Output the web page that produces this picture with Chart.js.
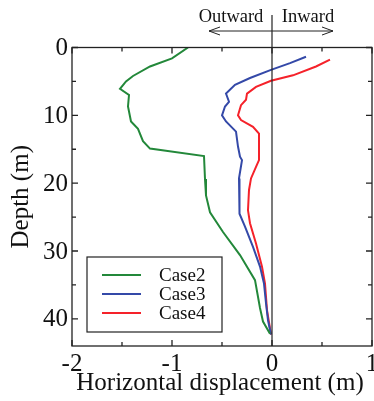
<!DOCTYPE html>
<html>
<head>
<meta charset="utf-8">
<script src="https://cdn.jsdelivr.net/npm/chart.js@4/dist/chart.umd.min.js"></script>
<style>
  html, body { margin: 0; padding: 0; background: #fff; }
  #wrap { width: 374px; height: 401px; }
</style>
</head>
<body>
<div id="wrap"><canvas id="chart" width="374" height="401"></canvas></div>
<script>
// -----------------------------
// DATA
// -----------------------------
const seriesNames = ["Case2", "Case3", "Case4"];
const seriesColors = ["#23883a", "#3449a8", "#f5222a"];

const case2Depth = [0, 1.6, 2.8, 4.2, 5.0, 6.1, 7.0, 8.7, 10.9, 12.0, 13.8, 14.9, 16.0, 19.4, 21.8, 24.3, 27.2, 30.6, 34.3, 38.4, 40.4, 42.2];
const case2Disp  = [-0.84, -1.0, -1.22, -1.39, -1.46, -1.52, -1.43, -1.44, -1.41, -1.34, -1.29, -1.22, -0.68, -0.67, -0.66, -0.62, -0.49, -0.32, -0.17, -0.12, -0.09, -0.02];

const case3Depth = [1.36, 2.3, 3.3, 4.5, 5.5, 6.8, 8.0, 8.7, 10.0, 10.9, 12.4, 14.6, 16.1, 16.6, 19.3, 21.0, 24.5, 26.4, 29.4, 32.3, 34.8, 37.7, 40.2, 42.3];
const case3Disp  = [0.34, 0.18, -0.01, -0.22, -0.37, -0.46, -0.43, -0.47, -0.50, -0.46, -0.36, -0.34, -0.32, -0.30, -0.33, -0.33, -0.32, -0.27, -0.19, -0.12, -0.08, -0.06, -0.04, -0.01];

const case4Depth = [1.8, 2.8, 4.1, 4.9, 5.8, 6.8, 7.7, 8.5, 10.0, 10.7, 11.7, 12.7, 16.6, 17.6, 19.3, 21.0, 24.0, 25.9, 28.9, 32.3, 34.8, 38.7, 42.3];
const case4Disp  = [0.58, 0.44, 0.21, -0.01, -0.16, -0.25, -0.26, -0.31, -0.34, -0.31, -0.19, -0.13, -0.13, -0.16, -0.21, -0.23, -0.24, -0.22, -0.16, -0.10, -0.07, -0.05, -0.01];

const xTicks = [-2, -1, 0, 1];
const xMinorTicks = [-1.5, -0.5, 0.5];
const yTicks = [0, 10, 20, 30, 40];
const yMinorTicks = [5, 15, 25, 35];

const xTitle = "Horizontal displacement (m)";
const yTitle = "Depth (m)";
const leftLabel = "Outward";
const rightLabel = "Inward";

const FONT = "'Liberation Serif', 'Times New Roman', serif";
const AXIS = "#222";

function toPoints(xs, ys) {
    return xs.map((v, i) => ({ x: v, y: ys[i] }));
}

// -----------------------------
// DECORATION PLUGIN
// -----------------------------
const decorPlugin = {
    id: "decor",
    afterDraw(chart) {
        const ctx = chart.ctx;
        const a = chart.chartArea;
        const xs = chart.scales.x;
        const ys = chart.scales.y;

        ctx.save();
        ctx.strokeStyle = AXIS;
        ctx.lineWidth = 1.3;
        ctx.strokeRect(a.left, a.top, a.right - a.left, a.bottom - a.top);

        // inward ticks on all four sides
        function xTick(v, len) {
            const px = xs.getPixelForValue(v);
            ctx.beginPath();
            ctx.moveTo(px, a.bottom); ctx.lineTo(px, a.bottom - len);
            ctx.moveTo(px, a.top); ctx.lineTo(px, a.top + len);
            ctx.stroke();
        }
        function yTick(v, len) {
            const py = ys.getPixelForValue(v);
            ctx.beginPath();
            ctx.moveTo(a.left, py); ctx.lineTo(a.left + len, py);
            ctx.moveTo(a.right, py); ctx.lineTo(a.right - len, py);
            ctx.stroke();
        }
        xTicks.forEach(v => xTick(v, 6));
        xMinorTicks.forEach(v => xTick(v, 4));
        yTicks.forEach(v => yTick(v, 6));
        yMinorTicks.forEach(v => yTick(v, 4));

        // tick labels
        ctx.fillStyle = "#111";
        ctx.font = "25px " + FONT;
        ctx.textAlign = "center";
        ctx.textBaseline = "alphabetic";
        xTicks.forEach(v => {
            ctx.fillText(String(v), xs.getPixelForValue(v), a.bottom + 25);
        });
        ctx.textAlign = "right";
        ctx.textBaseline = "middle";
        yTicks.forEach(v => {
            ctx.fillText(String(v), a.left - 4, ys.getPixelForValue(v) + 1);
        });

        // axis titles
        ctx.textAlign = "center";
        ctx.textBaseline = "alphabetic";
        ctx.fillText(xTitle, (a.left + a.right) / 2 - 2, a.bottom + 44);
        ctx.save();
        ctx.translate(21, (a.top + a.bottom) / 2);
        ctx.rotate(-Math.PI / 2);
        ctx.textBaseline = "middle";
        ctx.fillText(yTitle, 0, 0);
        ctx.restore();

        // zero line, running up through the arrow
        const x0 = xs.getPixelForValue(0);
        ctx.lineWidth = 1.2;
        ctx.beginPath();
        ctx.moveTo(x0, 15);
        ctx.lineTo(x0, a.bottom);
        ctx.stroke();

        // double arrow
        const ax1 = xs.getPixelForValue(-0.63);
        const ax2 = xs.getPixelForValue(0.61);
        const ay = 31;
        ctx.lineWidth = 1;
        ctx.beginPath();
        ctx.moveTo(ax1, ay); ctx.lineTo(ax2, ay);
        ctx.moveTo(ax1 + 11, ay - 4); ctx.lineTo(ax1, ay); ctx.lineTo(ax1 + 11, ay + 4);
        ctx.moveTo(ax2 - 11, ay - 4); ctx.lineTo(ax2, ay); ctx.lineTo(ax2 - 11, ay + 4);
        ctx.stroke();

        ctx.font = "18.5px " + FONT;
        ctx.textAlign = "center";
        ctx.textBaseline = "alphabetic";
        ctx.fillText(leftLabel, xs.getPixelForValue(-0.41), 22);
        ctx.fillText(rightLabel, xs.getPixelForValue(0.36), 22);

        // legend box
        const lx = 87, ly = 257, lw = 135, lh = 75;
        ctx.fillStyle = "#fff";
        ctx.fillRect(lx, ly, lw, lh);
        ctx.strokeStyle = AXIS;
        ctx.lineWidth = 1.2;
        ctx.strokeRect(lx, ly, lw, lh);
        ctx.font = "19px " + FONT;
        ctx.textAlign = "left";
        ctx.textBaseline = "middle";
        seriesNames.forEach((name, i) => {
            const ry = ly + 18 + i * 19;
            ctx.strokeStyle = seriesColors[i];
            ctx.lineWidth = 2;
            ctx.beginPath();
            ctx.moveTo(lx + 15, ry); ctx.lineTo(lx + 54, ry);
            ctx.stroke();
            ctx.fillStyle = "#111";
            ctx.fillText(name, lx + 72, ry + 1);
        });
        ctx.restore();
    }
};

// -----------------------------
// CHART
// -----------------------------
const ctx = document.getElementById("chart").getContext("2d");

new Chart(ctx, {
    type: "scatter",
    data: {
        datasets: [
            { label: seriesNames[0], data: toPoints(case2Disp, case2Depth), borderColor: seriesColors[0] },
            { label: seriesNames[1], data: toPoints(case3Disp, case3Depth), borderColor: seriesColors[1] },
            { label: seriesNames[2], data: toPoints(case4Disp, case4Depth), borderColor: seriesColors[2] }
        ].map(d => Object.assign(d, {
            showLine: true,
            pointRadius: 0,
            borderWidth: 2,
            tension: 0,
            fill: false
        }))
    },
    options: {
        responsive: false,
        animation: false,
        layout: {
            padding: { left: 72, right: 2, top: 47.5, bottom: 55 }
        },
        plugins: {
            legend: { display: false },
            tooltip: { enabled: false }
        },
        scales: {
            x: {
                type: "linear",
                min: -2,
                max: 1,
                display: false
            },
            y: {
                type: "linear",
                reverse: true,
                min: 0,
                max: 44,
                display: false
            }
        }
    },
    plugins: [decorPlugin]
});
</script>
</body>
</html>
